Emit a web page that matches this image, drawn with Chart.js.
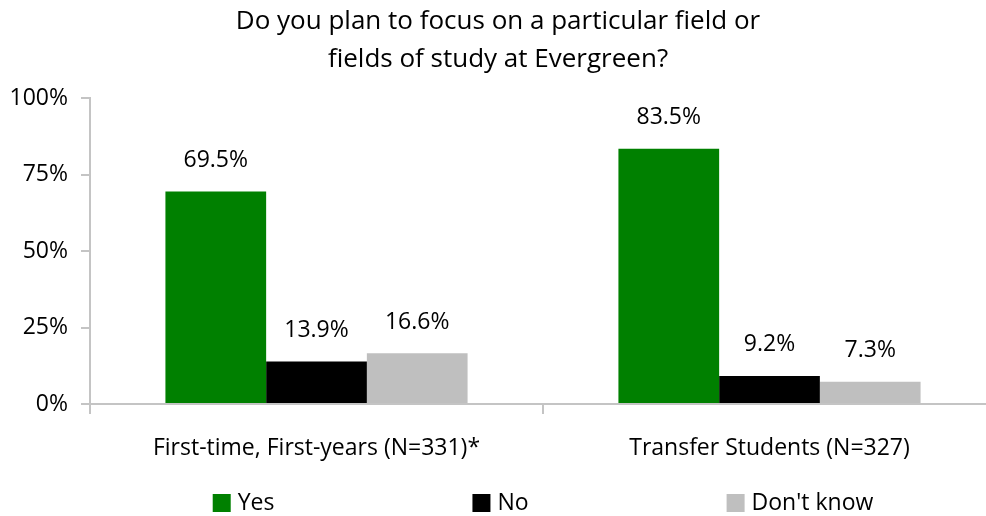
<!DOCTYPE html>
<html>
<head>
<meta charset="utf-8">
<script src="https://cdn.jsdelivr.net/npm/chart.js@4/dist/chart.umd.min.js"></script>
<style>
  html, body { margin: 0; padding: 0; background: #fff; overflow: hidden; }
  #wrap { position: absolute; left: 0; top: 0; width: 1120px; height: 516px; }
</style>
</head>
<body>
<div id="wrap"><canvas id="chart"></canvas></div>
<script>
// data
var groups = ['First-time, First-years (N=331)*', 'Transfer Students (N=327)'];
var answers = ['Yes', 'No', "Don't know"];
var yes = [69.5, 83.5];
var no = [13.9, 9.2];
var dontKnow = [16.6, 7.3];
var yTicks = [0, 25, 50, 75, 100];

var colors = ['#008000', '#000000', '#bfbfbf'];
var FONT = '"Open Sans", Lato, sans-serif';

// value labels above each bar
let valueLabels = {
    id: 'valueLabels',
    afterDatasetsDraw(chart) {
        let ctx = chart.ctx;
        ctx.save();
        ctx.font = '23px ' + FONT;
        ctx.fillStyle = '#000';
        ctx.textAlign = 'center';
        ctx.textBaseline = 'middle';
        chart.data.datasets.forEach((ds, i) => {
            chart.getDatasetMeta(i).data.forEach((bar, j) => {
                ctx.fillText(ds.data[j].toFixed(1) + '%', bar.x, bar.y - 31);
            });
        });
        ctx.restore();
    }
};

// legend drawn like excel: equal gaps, centred under the plot area
let excelLegend = {
    id: 'excelLegend',
    afterDraw(chart) {
        let ctx = chart.ctx;
        ctx.save();
        ctx.font = '23px ' + FONT;
        ctx.textBaseline = 'middle';
        let box = 18, gap = 7, space = 198;
        let widths = chart.data.datasets.map(ds => box + gap + ctx.measureText(ds.label).width);
        let total = widths.reduce((a, b) => a + b, 0) + space * (widths.length - 1);
        let x = (chart.chartArea.left + chart.chartArea.right) / 2 - total / 2;
        let y = 503;
        chart.data.datasets.forEach((ds, i) => {
            ctx.fillStyle = ds.backgroundColor;
            ctx.fillRect(x, y - box / 2, box, box);
            ctx.fillStyle = '#000';
            ctx.fillText(ds.label, x + box + gap, y);
            x += widths[i] + space;
        });
        ctx.restore();
    }
};

let datasets = [yes, no, dontKnow].map((vals, i) => ({
    label: answers[i],
    data: vals,
    backgroundColor: colors[i],
    borderWidth: 0,
    categoryPercentage: 0.667,
    barPercentage: 1.0
}));

let chart = new Chart(document.getElementById('chart'), {
    type: 'bar',
    data: { labels: groups, datasets: datasets },
    options: {
        responsive: true,
        maintainAspectRatio: false,
        animation: false,
        layout: { padding: { left: 0, right: 124, top: 0, bottom: 52 } },
        plugins: {
            legend: { display: false },
            tooltip: { enabled: false },
            title: {
                display: true,
                text: ['Do you plan to focus on a particular field or', 'fields of study at Evergreen?'],
                color: '#000',
                font: { family: FONT, size: 26, weight: 'normal', lineHeight: 1.45 },
                padding: { top: 3, bottom: 20 }
            }
        },
        scales: {
            x: {
                afterFit: s => { s.height = 60; },
                grid: { offset: true, drawOnChartArea: false, drawTicks: true, tickLength: 10, color: '#c4c4c4', lineWidth: 2 },
                border: { color: '#c4c4c4', width: 2 },
                ticks: { color: '#000', font: { family: FONT, size: 23 }, padding: 21, maxRotation: 0 }
            },
            y: {
                min: 0,
                max: 100,
                afterBuildTicks: s => { s.ticks = yTicks.map(v => ({ value: v })); },
                afterFit: s => { s.width = 90; },
                grid: { drawOnChartArea: false, drawTicks: true, tickLength: 9, color: '#c4c4c4', lineWidth: 2 },
                border: { color: '#c4c4c4', width: 2 },
                ticks: { color: '#000', font: { family: FONT, size: 23 }, padding: 13, callback: v => v + '%' }
            }
        }
    },
    plugins: [valueLabels, excelLegend]
});
</script>
</body>
</html>
